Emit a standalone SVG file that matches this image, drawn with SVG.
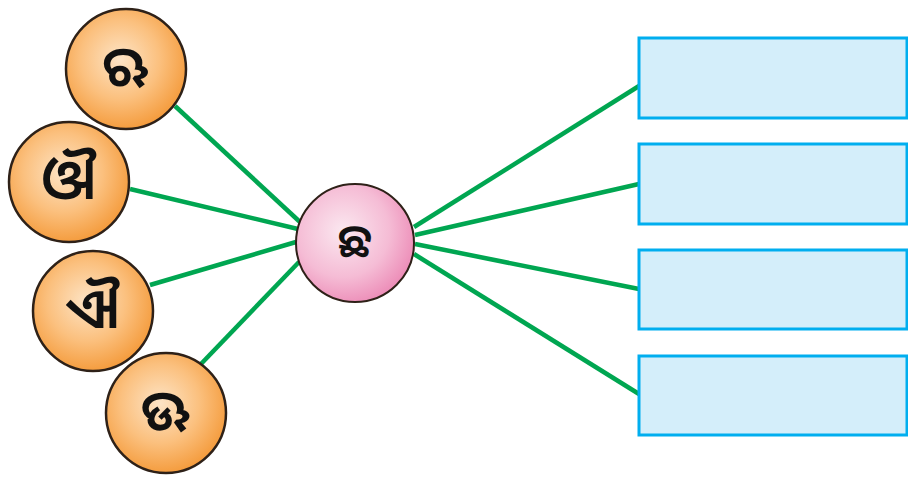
<svg xmlns="http://www.w3.org/2000/svg" width="908" height="480" viewBox="0 0 908 480">
<defs>
<radialGradient id="gOr" cx="0.45" cy="0.42" r="0.6">
<stop offset="0" stop-color="#fde4c6"/>
<stop offset="0.55" stop-color="#fbc07e"/>
<stop offset="1" stop-color="#f49a3a"/>
</radialGradient>
<radialGradient id="gPk" cx="0.4" cy="0.4" r="0.65">
<stop offset="0" stop-color="#fbe8f0"/>
<stop offset="0.6" stop-color="#f5bcd5"/>
<stop offset="1" stop-color="#ec8ab6"/>
</radialGradient>
<style>
.or{fill:url(#gOr);stroke:#2e2118;stroke-width:2.5}
.pk{fill:url(#gPk);stroke:#2e2118;stroke-width:2}
.box{fill:#d4eefa;stroke:#00aeef;stroke-width:3}
.lbl{font-family:'Noto Sans Oriya','Noto Sans',sans-serif;font-size:56px;font-weight:600;fill:#111;text-anchor:middle;dominant-baseline:central}
.sm{font-size:46px}
.cn line{stroke:#00a651;stroke-width:4.5;stroke-linecap:butt}
</style>
</defs>
<rect width="908" height="480" fill="#fff"/>
<g id="connectors" class="cn">
<line x1="175" y1="106" x2="300" y2="222"/>
<line x1="130" y1="189" x2="298" y2="229"/>
<line x1="150" y1="285" x2="296" y2="242"/>
<line x1="200" y1="365" x2="299" y2="262"/>
<line x1="414" y1="227" x2="639" y2="86"/>
<line x1="415" y1="235" x2="639" y2="184"/>
<line x1="415" y1="244" x2="639" y2="289"/>
<line x1="414" y1="254" x2="639" y2="394"/>
</g>
<g id="n1"><circle class="or" cx="126" cy="69" r="60"/><text class="lbl" x="126" y="64">ଋ</text></g>
<g id="n2"><circle class="or" cx="69" cy="182" r="60"/><text class="lbl" x="69" y="177">ଔ</text></g>
<g id="n3"><circle class="or" cx="93" cy="311" r="60"/><text class="lbl" x="93" y="306">ଐ</text></g>
<g id="n4"><circle class="or" cx="166" cy="413" r="60"/><text class="lbl" x="166" y="408">ଊ</text></g>
<g id="center"><circle class="pk" cx="355" cy="243" r="59"/><text class="lbl sm" x="355" y="239">ଛ</text></g>
<g id="b1"><rect class="box" x="639" y="38" width="268" height="80"/></g>
<g id="b2"><rect class="box" x="639" y="144" width="268" height="80"/></g>
<g id="b3"><rect class="box" x="639" y="250" width="268" height="79"/></g>
<g id="b4"><rect class="box" x="639" y="356" width="268" height="79"/></g>
</svg>
